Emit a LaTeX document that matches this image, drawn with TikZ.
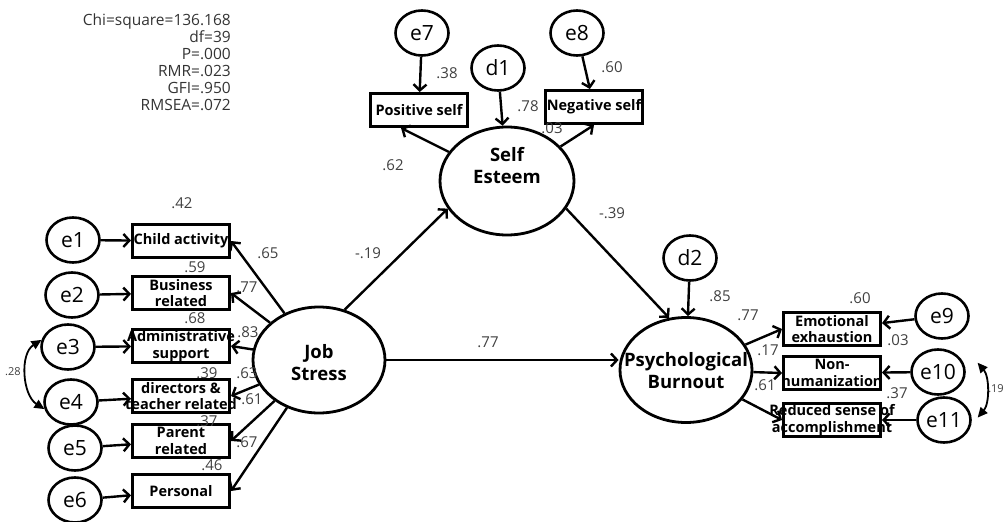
\documentclass[tikz,border=0pt]{standalone}
\usepackage{fontspec}
\setmainfont{Open Sans}
\usetikzlibrary{arrows.meta,shapes.geometric}

\tikzset{
  lat/.style={draw,ellipse,line width=2.8pt,minimum width=132pt,minimum height=106pt,inner sep=0pt},
  lattext/.style={align=center,inner sep=0pt,font=\fontsize{18.5}{22}\selectfont\bfseries},
  err/.style={draw,ellipse,line width=2.6pt,minimum width=53pt,minimum height=45pt,inner sep=0pt,font=\fontsize{21}{23}\selectfont},
  obs/.style={draw,rectangle,line width=3pt,minimum width=97pt,minimum height=33pt,inner sep=0pt,
    label={[align=center,inner sep=0pt,font=\fontsize{14.5}{16.5}\selectfont\bfseries]center:#1}},
  num/.style={inner sep=0pt,text=black!75,font=\fontsize{15}{17}\selectfont},
  small/.style={num,font=\fontsize{11}{12}\selectfont},
  reg/.style={line width=2.4pt,-{Straight Barb[length=6pt,width=13pt]}},
  cov/.style={line width=1.8pt,{Triangle[length=10pt,width=9pt]}-{Triangle[length=10pt,width=9pt]}}
}

\begin{document}
\begin{tikzpicture}[x=1pt,y=-1pt]
  \useasboundingbox (0,0) rectangle (1005,522);
  % fit indices
  \node[anchor=north east,align=right,inner sep=0pt,text=black!80,font=\fontsize{15.5}{17}\selectfont] (fit) at (231,14)
    {Chi=square=136.168\\df=39\\P=.000\\RMR=.023\\GFI=.950\\RMSEA=.072};

  % latent variables
  \node[lat,label={[lattext,yshift=-3pt]center:Job\\Stress}] (js) at (319,360) {};
  \node[lat,minimum width=134pt,minimum height=108pt,label={[lattext,yshift=15pt]center:Self\\Esteem}] (se) at (507,181) {};
  \node[lat,minimum height=105pt,label={[lattext,yshift=-1pt]center:Psychological\\Burnout}] (pb) at (686,370) {};

  % indicators
  \node[obs={Child activity}] (c1) at (181,241) {};
  \node[obs={Business\\related}] (c2) at (181,293) {};
  \node[obs={Administrative\\support}] (c3) at (181,346) {};
  \node[obs={directors \&\\teacher related}] (c4) at (181,396) {};
  \node[obs={Parent\\related}] (c5) at (181,441) {};
  \node[obs={Personal}] (c6) at (181,491) {};
  \node[obs={Positive self}] (p1) at (419,110) {};
  \node[obs={Negative self}] (p2) at (594,107) {};
  \node[obs={Emotional\\exhaustion}] (b1) at (832,329) {};
  \node[obs={Non-\\humanization}] (b2) at (832,373) {};
  \node[obs={Reduced sense of\\accomplishment}] (b3) at (832,420) {};

  % errors and disturbances
  \node[err] (e1) at (73,240) {e1};
  \node[err] (e2) at (72,295) {e2};
  \node[err] (e3) at (68,347) {e3};
  \node[err] (e4) at (71,402) {e4};
  \node[err] (e5) at (75,448) {e5};
  \node[err] (e6) at (75,500) {e6};
  \node[err] (e7) at (422,33) {e7};
  \node[err] (e8) at (577,33) {e8};
  \node[err] (d1) at (498,68) {d1};
  \node[err] (d2) at (690,258) {d2};
  \node[err] (e9) at (942,316) {e9};
  \node[err] (e10) at (938,372) {e10};
  \node[err] (e11) at (944,420) {e11};

  \path[reg]
    (e1) edge (c1) (e2) edge (c2) (e3) edge (c3)
    (e4) edge (c4) (e5) edge (c5) (e6) edge (c6)
    (js) edge (c1.east) edge (c2.east) edge (c3.east)
         edge (c4.east) edge (c5.east) edge (c6.east)
    (js.63) edge (se.205)
    (js.east) edge (js.east -| pb.west)
    (e7) edge (p1) (e8) edge (p2) (d1) edge (se)
    (se) edge (p1.225) edge (p2.south)
    (se.-25) edge (pb.108)
    (d2) edge (pb)
    (pb) edge (b1.west) edge (b2.west) edge (b3.west)
    (e9) edge (b1) (e10) edge (b2) (e11) edge (b3);

  \draw[cov] (e3.165) .. controls +(-22,14) and +(-22,-14) .. (e4.195);
  \draw[cov] ([xshift=14pt]e10.20) .. controls +(12,14) and +(12,-14) .. ([xshift=6pt]e11.5);

  % estimates
  \foreach \x/\y/\t [count=\k] in {182/203/.42, 195/267/.59, 195/318/.68, 207/373/.39, 207/421/.37, 212/465/.46,
      268/253/.65, 247/287/.77, 248/332/.83, 247/373/.63, 252/399/.61, 247/442/.67,
      368/253/-.19, 488/342/.77, 447/73/.38, 528/106/.78, 612/67/.60, 552/128/.03, 393/165/.62, 612/213/-.39,
      720/296/.85, 748/315/.77, 860/298/.60, 768/350/.17, 898/340/.03, 765/385/.61, 897/393/.37}
    \node[num] (w\k) at (\x,\y) {\t};
  \node[small] (w0) at (13,372) {.28};
  \node[small] (w99) at (996,389) {.19};
\end{tikzpicture}
\end{document}
